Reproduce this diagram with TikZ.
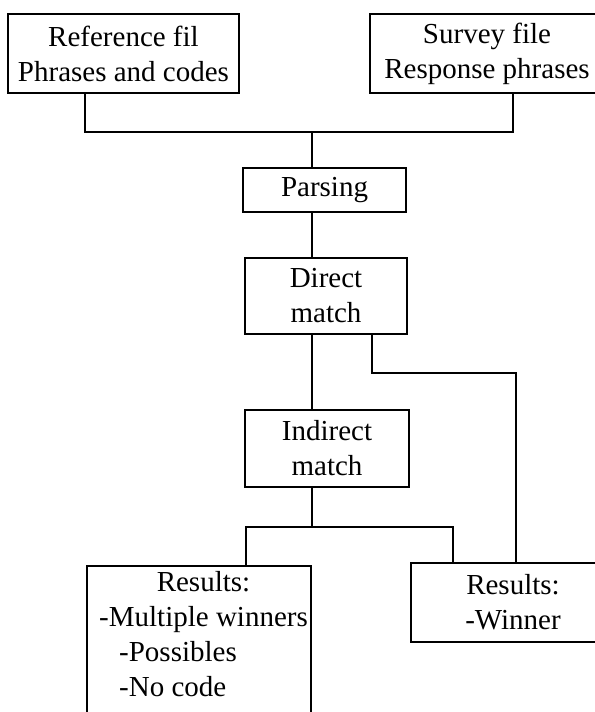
\documentclass[tikz,border=0pt]{standalone}
\usepackage{fontspec}
\setmainfont{Liberation Serif}

\begin{document}
\begin{tikzpicture}[x=1bp, y=-1bp,
		texto/.style={font={\fontsize{29bp}{35bp}\selectfont}},
		caja/.style={draw, texto, line width=1.9bp, align=center, inner sep=0pt},
		linea/.style={line width=1.9bp}]
		% Marco de la figura
		\useasboundingbox (0,0) rectangle (595,712);
		% Archivos de entrada
		\node[caja, minimum width=231bp, minimum height=79bp] (ref) at (123.5,53.5) {Reference fil\\Phrases and codes};
		\node[caja, minimum width=234bp, minimum height=79bp] (survey) at (487,53.5) {Survey file\\Response phrases};
		% Pasos del proceso
		\node[caja, minimum width=163bp, minimum height=44bp] (parsing) at (324.5,190) {Parsing};
		\node[caja, minimum width=162bp, minimum height=76bp] (direct) at (326,296) {Direct\\match};
		\node[caja, minimum width=164bp, minimum height=77bp] (indirect) at (327,448.5) {Indirect\\match};
		% Resultados
		\node[caja, minimum width=224bp, minimum height=180bp, anchor=north] (multi) at (199,565) {};
		\node[texto, anchor=north west, inner sep=0pt] (multitxt) at (99,567)
			{\begin{tabular}{@{}l@{}}\multicolumn{1}{@{}c@{}}{Results:}\\-Multiple winners\\\hspace*{20bp}-Possibles\\\hspace*{20bp}-No code\end{tabular}};
		\node[caja, minimum width=204bp, minimum height=79bp] (winner) at (513,602.5) {Results:\\-Winner};
		% Conexiones
		\coordinate (bus) at (312,132);
		\coordinate (rama) at (372,373);
		\coordinate (bus2) at (312,527);
		\draw[linea] ([xshift=-38.5bp]ref.south) |- (bus) -| ([xshift=26bp]survey.south);
		\draw[linea] (bus) -- (parsing.north -| bus);
		\draw[linea] (parsing.south -| bus) -- (direct.north -| bus);
		\draw[linea] (direct.south -| bus) -- (indirect.north -| bus);
		\draw[linea] ([xshift=46bp]direct.south) -- (rama) -| ([xshift=3bp]winner.north);
		\draw[linea] (indirect.south -| bus2) -- (bus2);
		\draw[linea] ([xshift=47bp]multi.north) |- (bus2) -| ([xshift=-60bp]winner.north);
	\end{tikzpicture}
\end{document}
